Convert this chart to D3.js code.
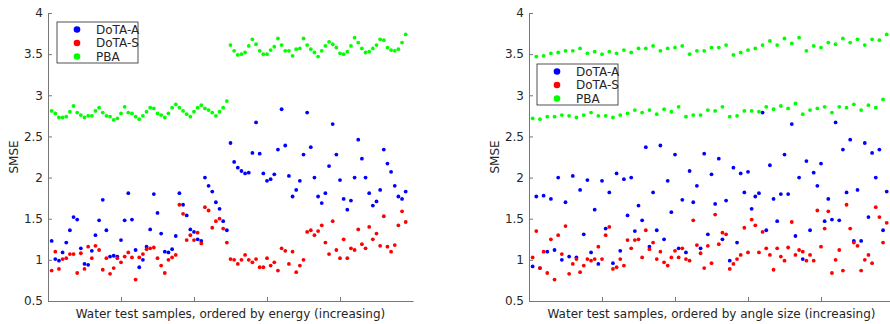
<html>
<head>
<script src="https://d3js.org/d3.v7.min.js"></script>
<style>
  body { margin: 0; background: #fff; }
  text { font-family: "DejaVu Sans", sans-serif; fill: #262626; }
</style>
</head>
<body>
<div id="chart"></div>
<script>
// tick values shared by both panels
const yTicks = [0.5, 1, 1.5, 2, 2.5, 3, 3.5, 4];
const xTicks = [20, 40, 60, 80];
const seriesNames = ["DoTA-A", "DoTA-S", "PBA"];
const seriesColors = ["#0000ff", "#ff0000", "#00ff00"];

// left panel: ordered by energy
const energyDotaA = [1.23, 1.01, 0.99, 1.09, 1.21, 1.36, 1.52, 1.49, 1.14, 0.95, 0.94, 1.11, 1.30, 1.48, 1.73, 1.36, 1.04, 1.05, 1.04, 1.24,
  1.48, 1.81, 1.49, 1.12, 0.91, 1.00, 1.16, 1.37, 1.80, 1.57, 1.32, 1.10, 1.09, 1.13, 1.29, 1.81, 1.67, 1.54, 1.37, 1.34,
  1.25, 1.23, 2.00, 1.90, 1.83, 1.70, 1.62, 1.47, 1.36, 2.42, 2.19, 2.12, 2.08, 2.05, 2.06, 2.30, 2.67, 2.29, 2.05, 1.96,
  1.98, 2.04, 2.34, 2.83, 2.39, 2.02, 1.77, 1.85, 1.96, 2.28, 2.79, 2.37, 2.00, 1.77, 1.69, 1.81, 2.14, 2.65, 2.28, 1.97,
  1.74, 1.61, 1.72, 2.00, 2.46, 2.23, 2.00, 1.81, 1.66, 1.71, 1.85, 2.34, 2.17, 2.07, 1.90, 1.77, 1.74, 1.83];
const energyDotaS = [0.87, 1.10, 0.89, 1.01, 1.02, 1.07, 1.07, 0.84, 1.08, 0.89, 1.16, 1.02, 1.17, 1.12, 0.88, 1.02, 0.83, 0.90, 1.02, 0.97,
  1.04, 1.09, 1.03, 0.76, 1.03, 1.07, 1.13, 1.14, 1.15, 1.02, 0.93, 0.84, 1.00, 1.03, 1.06, 1.67, 1.56, 1.24, 1.30, 1.24,
  1.33, 1.20, 1.64, 1.60, 1.39, 1.47, 1.50, 1.38, 1.21, 1.01, 1.00, 0.95, 1.00, 1.06, 1.00, 0.97, 1.01, 0.91, 0.91, 1.02,
  0.93, 0.97, 0.87, 1.14, 1.11, 0.95, 1.10, 0.85, 0.93, 1.00, 1.34, 1.36, 1.30, 1.35, 1.42, 1.21, 1.07, 1.47, 1.12, 1.02,
  1.25, 1.02, 1.14, 1.12, 1.37, 1.19, 1.14, 1.40, 1.25, 1.32, 1.17, 1.53, 1.16, 1.10, 1.18, 1.42, 1.59, 1.46];
const energyPBA = [2.81, 2.78, 2.73, 2.73, 2.74, 2.80, 2.87, 2.79, 2.76, 2.73, 2.75, 2.75, 2.81, 2.85, 2.79, 2.75, 2.74, 2.70, 2.72, 2.78,
  2.86, 2.79, 2.78, 2.74, 2.71, 2.75, 2.80, 2.85, 2.84, 2.78, 2.76, 2.73, 2.78, 2.85, 2.89, 2.85, 2.81, 2.77, 2.74, 2.80,
  2.85, 2.88, 2.84, 2.82, 2.79, 2.75, 2.80, 2.85, 2.93, 3.61, 3.54, 3.49, 3.50, 3.52, 3.60, 3.68, 3.62, 3.54, 3.50, 3.50,
  3.55, 3.59, 3.69, 3.61, 3.54, 3.54, 3.48, 3.56, 3.57, 3.69, 3.61, 3.56, 3.52, 3.47, 3.54, 3.60, 3.65, 3.62, 3.58, 3.51,
  3.50, 3.53, 3.60, 3.70, 3.64, 3.57, 3.52, 3.53, 3.57, 3.61, 3.68, 3.67, 3.58, 3.55, 3.54, 3.56, 3.64, 3.74];

// right panel: ordered by angle size
const angleDotaA = [0.92, 1.77, 0.90, 1.78, 1.10, 1.74, 1.12, 2.00, 1.00, 1.70, 1.04, 2.02, 1.03, 1.85, 1.31, 1.97, 1.09, 1.61, 0.95, 1.96,
  1.38, 1.82, 0.96, 2.05, 1.11, 1.98, 1.54, 2.00, 1.35, 1.66, 1.48, 2.37, 1.16, 1.82, 1.36, 2.39, 1.25, 1.96, 1.58, 2.28,
  1.14, 1.73, 1.09, 2.08, 1.70, 1.90, 1.14, 2.29, 1.31, 2.04, 1.68, 2.23, 1.25, 1.72, 0.99, 2.12, 1.21, 2.05, 1.82, 2.07,
  1.62, 1.77, 1.81, 2.79, 1.36, 2.15, 1.74, 1.47, 1.80, 2.28, 1.80, 2.65, 1.29, 2.00, 1.01, 2.20, 1.36, 2.06, 1.90, 2.17,
  1.47, 1.74, 1.49, 2.67, 1.48, 2.34, 1.82, 2.46, 1.23, 1.85, 1.23, 2.42, 1.52, 2.30, 2.00, 2.34, 1.36, 1.83];
const angleDotaS = [1.03, 1.35, 0.90, 1.10, 0.84, 1.25, 0.76, 1.30, 1.07, 1.41, 0.83, 0.95, 1.01, 0.85, 0.93, 1.01, 0.99, 1.01, 1.16, 1.01,
  1.30, 1.40, 0.89, 0.91, 1.01, 0.93, 1.24, 1.14, 1.24, 1.25, 1.03, 1.36, 1.13, 1.21, 1.01, 1.10, 0.97, 0.93, 1.03, 1.11,
  1.03, 1.14, 1.01, 0.99, 1.48, 1.18, 1.08, 0.90, 1.17, 0.96, 1.55, 1.19, 1.33, 1.31, 0.89, 0.95, 1.01, 1.06, 1.39, 1.09,
  1.49, 1.42, 1.09, 1.34, 1.14, 1.06, 0.88, 1.14, 1.04, 0.99, 1.15, 1.46, 1.06, 1.12, 1.10, 0.99, 1.06, 0.99, 1.60, 1.16,
  1.38, 1.59, 0.84, 1.00, 1.12, 0.87, 1.67, 1.38, 1.21, 1.17, 0.87, 1.00, 1.06, 0.96, 1.64, 1.52, 1.21, 1.45];
const anglePBA = [2.72, 3.47, 2.71, 3.48, 2.74, 3.51, 2.74, 3.52, 2.76, 3.54, 2.75, 3.54, 2.73, 3.57, 2.76, 3.51, 2.79, 3.53, 2.75, 3.50,
  2.75, 3.53, 2.73, 3.51, 2.76, 3.55, 2.78, 3.52, 2.82, 3.57, 2.79, 3.57, 2.82, 3.60, 2.77, 3.54, 2.83, 3.57, 2.80, 3.58,
  2.86, 3.60, 2.74, 3.50, 2.76, 3.54, 2.76, 3.54, 2.82, 3.58, 2.81, 3.58, 2.86, 3.61, 2.74, 3.49, 2.75, 3.52, 2.81, 3.55,
  2.81, 3.57, 2.80, 3.61, 2.86, 3.66, 2.83, 3.61, 2.87, 3.69, 2.84, 3.63, 2.90, 3.70, 2.77, 3.54, 2.82, 3.60, 2.84, 3.58,
  2.86, 3.64, 2.79, 3.62, 2.86, 3.69, 2.85, 3.64, 2.89, 3.68, 2.82, 3.61, 2.88, 3.68, 2.85, 3.67, 2.95, 3.74];

const panels = [
  { left: 48, label: "Water test samples, ordered by energy (increasing)",
    series: [energyDotaA, energyDotaS, energyPBA], legend: { x: 57, y: 22 } },
  { left: 529, label: "Water test samples, ordered by angle size (increasing)",
    series: [angleDotaA, angleDotaS, anglePBA], legend: { x: 537, y: 64 } }
];

const width = 365, height = 288, marginTop = 13;

const svg = d3.select("#chart").append("svg")
  .attr("width", 890)
  .attr("height", 324);

const x = d3.scaleLinear().domain([0, 100]).range([0, width]);
const y = d3.scaleLinear().domain([0.5, 4]).range([height, 0]);

panels.forEach(p => {
  const g = svg.append("g").attr("transform", `translate(${p.left},${marginTop})`);

  // points, drawn in series order so green sits on top like the original
  p.series.forEach((vals, s) => {
    g.append("g").selectAll("circle")
      .data(vals)
      .join("circle")
      .attr("cx", (d, i) => x(i + 1))
      .attr("cy", d => y(d))
      .attr("r", 1.9)
      .attr("fill", seriesColors[s]);
  });

  const yAxis = g.append("g")
    .call(d3.axisLeft(y).tickValues(yTicks).tickSizeInner(-4).tickSizeOuter(0)
      .tickPadding(5).tickFormat(d => String(d)));
  const xAxis = g.append("g")
    .attr("transform", `translate(0,${height})`)
    .call(d3.axisBottom(x).tickValues(xTicks).tickSizeInner(-4).tickSizeOuter(0)
      .tickFormat(""));
  [yAxis, xAxis].forEach(a => {
    a.selectAll("path, line").attr("stroke", "#777");
    a.selectAll("text").attr("font-size", 12).attr("fill", "#262626")
      .style("font-family", "DejaVu Sans");
  });

  g.append("text")
    .attr("x", width / 2)
    .attr("y", height + 17)
    .attr("text-anchor", "middle")
    .attr("font-size", 12)
    .text(p.label);

  g.append("text")
    .attr("transform", `translate(-30,${height / 2}) rotate(-90)`)
    .attr("text-anchor", "middle")
    .attr("font-size", 12)
    .text("SMSE");

  // legend
  const lg = svg.append("g").attr("transform", `translate(${p.legend.x},${p.legend.y})`);
  lg.append("rect")
    .attr("width", 81).attr("height", 41)
    .attr("fill", "#fff").attr("stroke", "#262626").attr("stroke-width", 0.8);
  seriesNames.forEach((name, s) => {
    lg.append("circle")
      .attr("cx", 20).attr("cy", 7.5 + s * 13.5)
      .attr("r", 3.3)
      .attr("fill", seriesColors[s]);
    lg.append("text")
      .attr("x", 39).attr("y", 7.5 + s * 13.5)
      .attr("dy", "0.35em")
      .attr("font-size", 12)
      .text(name);
  });
});
</script>
</body>
</html>
